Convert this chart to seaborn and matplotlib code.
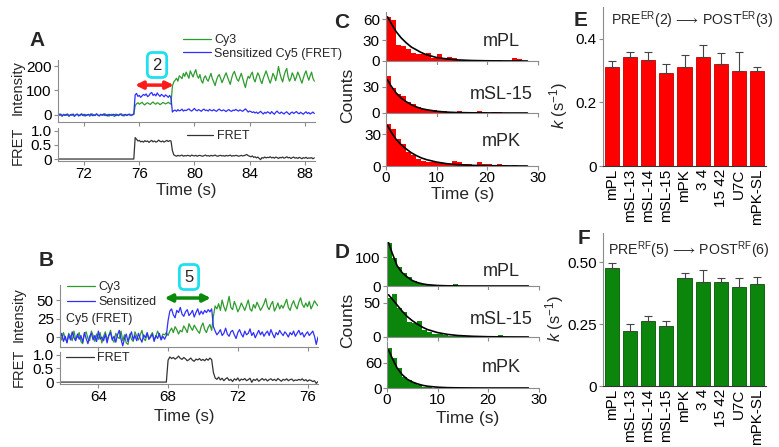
import numpy as np
import seaborn as sns
import matplotlib.pyplot as plt

# ---------------- data ----------------
# A: single-molecule trace, 0.1 s frames starting at 70.0 s
a_cy3 = [
    2, -3, 4, -1, -5, 3, 1, -2, 5, -4,
    0, 3, -2, -6, 2, 4, -1, -3, 6, 1,
    -4, 2, -2, 3, -5, 0, 4, -3, 1, 5,
    -2, -4, 3, 0, -1, 6, -3, 2, -5, 1,
    3, -2, -6, 4, 0, -3, 2, 5, -1, -4,
    3, -2, 1, 4, -3, 0, 2,
    38, 46, 50, 44, 48, 52, 45, 41, 47, 50,
    46, 43, 49, 53, 47, 44, 50, 48, 42, 46,
    51, 49, 45, 48, 52, 47, 44,
    118, 135, 142, 150, 138, 160, 155, 148, 170, 158,
    175, 162, 150, 180, 168, 155, 172, 185, 160, 150,
    165, 140, 130, 152, 160, 145, 138, 155, 170, 148,
    135, 120, 142, 158, 165, 150, 132, 145, 160, 172,
    155, 140, 125, 150, 168, 178, 160, 145, 138, 155,
    170, 150, 130, 112, 140, 158, 150, 165, 175, 148,
    135, 155, 172, 160, 140, 128, 150, 165, 180, 162,
    145, 130, 148, 170, 158, 140, 165, 198, 170, 150,
    135, 160, 178, 190, 155, 138, 150, 172, 160, 140,
    155, 175, 162, 145, 130, 150, 168, 180, 158, 142,
    160, 175, 150, 138,
]
a_cy5 = [
    -3, 2, -1, 4, -4, 1, -2, 3, 0, -5,
    2, -1, 4, -3, 0, 3, -4, 1, 2, -2,
    3, -4, 0, 2, -1, 5, -3, 1, -2, 4,
    0, -3, 2, -1, 4, -2, 1, -4, 3, 0,
    -2, 3, 1, -3, 2, -1, 4, 0, -3, 2,
    1, -2, 3, 0, -1, 2, 4,
    82, 88, 76, 80, 72, 78, 84, 80, 86, 75,
    79, 88, 92, 80, 85, 78, 90, 82, 76, 84,
    80, 74, 82, 78, 72, 80, 70,
    12, 18, 20, 15, 22, 17, 19, 24, 16, 20,
    18, 22, 25, 19, 16, 21, 27, 20, 17, 22,
    19, 15, 21, 24, 18, 20, 16, 23, 19, 17,
    22, 18, 15, 20, 24, 19, 17, 21, 18, 14,
    19, 22, 17, 15, 20, 18, 23, 19, 16, 21,
    18, 15, 20, 25, 19, 12, 16, 14, 10, 13,
    8, 12, 6, 10, 15, 9, 4, 11, 7, 13,
    10, 5, 14, 8, 3, 11, 16, 9, 6, 12,
    8, 4, 10, 13, 7, 2, 9, 12, 6, 10,
    14, 8, 5, 11, 7, 3, 9, 13, 6, 10,
    4, 8, 12, 6,
]
a_fret = [
    0, 0, 0, 0, 0, 0, 0, 0, 0, 0,
    0, 0, 0, 0, 0, 0, 0, 0, 0, 0,
    0, 0, 0, 0, 0, 0, 0, 0, 0, 0,
    0, 0, 0, 0, 0, 0, 0, 0, 0, 0,
    0, 0, 0, 0, 0, 0, 0, 0, 0, 0,
    0, 0, 0, 0, 0, 0, 0,
    0.76, 0.70, 0.64, 0.66, 0.61, 0.63, 0.60, 0.65, 0.62, 0.64,
    0.59, 0.63, 0.66, 0.61, 0.64, 0.60, 0.62, 0.67, 0.63, 0.61,
    0.64, 0.60, 0.63, 0.66, 0.62, 0.65, 0.64,
    0.30, 0.15, 0.12, 0.10, 0.13, 0.11, 0.12, 0.14, 0.10, 0.12,
    0.11, 0.13, 0.12, 0.10, 0.14, 0.12, 0.11, 0.13, 0.10, 0.12,
    0.13, 0.11, 0.10, 0.12, 0.14, 0.11, 0.12, 0.10, 0.13, 0.11,
    0.12, 0.14, 0.11, 0.10, 0.12, 0.13, 0.11, 0.12, 0.10, 0.13,
    0.11, 0.12, 0.14, 0.10, 0.12, 0.11, 0.13, 0.12, 0.10, 0.11,
    0.13, 0.11, 0.12, 0.14, 0.16, 0.12, 0.10, 0.08, 0.11, 0.06,
    0.08, 0.04, 0.07, 0.02, -0.02, 0.05, 0.03, 0.07, 0.04, 0.06,
    0.05, 0.08, 0.04, 0.06, 0.03, 0.07, 0.05, 0.02, 0.06, 0.04,
    0.07, 0.03, 0.05, 0.08, 0.04, 0.06, 0.02, 0.05, 0.07, 0.03,
    0.05, 0.02, 0.06, 0.04, 0.01, 0.05, 0.03, 0.06, 0.02, 0.04,
    0.03, 0.05, 0.01, 0.04,
]

# B: single-molecule trace, 0.1 s frames starting at 61.8 s
b_cy3 = [
    3, -4, 6, -2, -7, 5, 1, -5, 8, -3,
    0, 6, -6, -9, 4, 7, -2, -5, 8, 2,
    -6, 4, -3, 6, -8, 1, 7, -4, 2, 9,
    -3, -7, 5, 0, -2, 8, -5, 3, -8, -10,
    4, -3, -6, 7, 1, -4, 3, 9, -2, -5,
    5, -3, 2, 6, -4, 1, 8, 2, -3, 4,
    3, 6,
    2, 8, 12, 6, 14, 10, 4, 9, 7, 15,
    11, 6, 18, 13, 9, 16, 12, 8, 5, 14,
    19, 10, 6, 13, 17, 9,
    28, 42, 38, 45, 36, 50, 41, 35, 44, 55,
    40, 37, 48, 42, 34, 39, 46, 41, 36, 43,
    50, 38, 35, 44, 39, 47, 42, 36, 40, 45,
    52, 41, 37, 44, 48, 35, 40, 46, 38, 43,
    39, 45, 51, 40, 36, 44, 49, 42, 38, 47,
    53, 44, 40, 46, 41, 48, 38, 43, 49, 45,
    42,
]
b_cy5 = [
    -2, 5, -6, 1, -8, 3, -4, 7, -1, -5,
    4, -3, 2, -7, 6, -2, -9, 1, 5, -4,
    2, -6, 8, -3, 0, -5, 4, -8, 2, 6,
    -4, 1, -7, 3, 9, -3, -12, -2, 4, -6,
    1, 7, -4, 2, -5, 5, -2, -7, 3, -1,
    6, -3, 0, 4, -6, 2, -2, 5, -4, 1,
    -3, 2,
    22, 35, 38, 30, 26, 36, 33, 40, 31, 28,
    34, 37, 29, 32, 36, 27, 33, 38, 30, 35,
    31, 36, 33, 37, 34, 38,
    14, 8, 3, 6, 10, 2, 5, 12, 4, 1,
    7, 9, 3, -2, 6, 10, 4, 0, 8, 3,
    5, 11, 2, 6, -1, 4, 9, 3, 7, 1,
    5, 8, 2, 10, 4, -1, 6, 3, 9, 5,
    2, 7, 4, 0, 6, 3, 8, 1, 5, 9,
    3, 6, 0, 4, 7, 2, 5, 8, 1, -10,
    0,
]
b_fret = [
    0, 0, 0, 0, 0, 0, 0, 0, 0, 0,
    0, 0, 0, 0, 0, 0, 0, 0, 0, 0,
    0, 0, 0, 0, 0, 0, 0, 0, 0, 0,
    0, 0, 0, 0, 0, 0, 0, 0, 0, 0,
    0, 0, 0, 0, 0, 0, 0, 0, 0, 0,
    0, 0, 0, 0, 0, 0, 0, 0, 0, 0,
    0, 0,
    0.80, 0.92, 0.86, 0.90, 0.84, 0.88, 0.95, 0.87, 0.83, 0.90,
    0.85, 0.78, 0.82, 0.88, 0.80, 0.76, 0.84, 0.81, 0.86, 0.79,
    0.83, 0.78, 0.85, 0.80, 0.88, 0.82,
    0.35, 0.15, 0.10, 0.18, 0.08, 0.14, 0.05, 0.12, 0.16, 0.06,
    0.10, 0.02, 0.12, 0.07, 0.15, 0.04, 0.11, 0.08, 0.13, 0.05,
    0.09, 0.14, -0.01, 0.10, 0.06, 0.12, 0.03, 0.08, 0.13, 0.07,
    0.11, 0.04, 0.09, 0.12, 0.06, 0.10, 0.05, 0.13, 0.08, 0.03,
    0.10, 0.07, 0.12, 0.05, 0.09, 0.11, 0.04, 0.08, 0.06, 0.10,
    0.07, 0.12, 0.05, 0.09, 0.03, 0.08, 0.06, 0.02, 0.05, -0.05,
    0.02,
]

# C / D: dwell-time histograms, 1 s bins from 0 to 28 s
bin_edges = list(range(0, 29))
c_mpl = [63, 58, 23, 22, 17, 12, 10, 10, 11, 4, 10, 4, 6, 5,
         2, 2, 1, 2, 2, 1, 1, 1, 1, 0, 0, 4, 3, 0]
c_msl15 = [42, 29, 22, 20, 13, 10, 7, 5, 4, 3, 2, 2, 1, 1,
           2, 1, 1, 0, 2, 1, 0, 1, 1, 0, 0, 0, 0, 0]
c_mpk = [39, 35, 25, 21, 13, 10, 7, 5, 4, 4, 3, 3, 2, 5,
         4, 2, 2, 1, 4, 2, 2, 1, 2, 1, 0, 1, 0, 0]
d_mpl = [150, 98, 66, 45, 30, 18, 12, 8, 5, 4, 3, 2, 1, 6,
         0, 0, 0, 0, 0, 0, 0, 0, 0, 0, 0, 0, 0, 0]
d_msl15 = [57, 63, 42, 37, 22, 20, 24, 10, 8, 5, 4, 3, 2, 1,
           1, 1, 1, 0, 0, 0, 0, 0, 3, 0, 0, 0, 0, 0]
d_mpk = [95, 71, 47, 27, 19, 11, 6, 3, 2, 1, 1, 1, 0, 0,
         0, 0, 0, 0, 0, 0, 0, 0, 0, 0, 0, 0, 0, 0]

# single-exponential fit curves
fit_t = [0.3, 1, 2, 3, 4, 5, 6, 7, 8, 10, 12, 14, 17, 20, 24, 28]
c_mpl_fit = [63, 54, 42, 33, 26, 20, 16, 12, 9, 5, 3, 1.6, 0.7, 0.3, 0.1, 0]
c_msl15_fit = [38, 31, 23, 17, 13, 9.5, 7, 5, 3.8, 2, 1, 0.5, 0.2, 0.1, 0, 0]
c_mpk_fit = [38, 32, 25, 20, 16, 12.5, 9.8, 7.6, 6, 3.7, 2.2, 1.3, 0.6, 0.3, 0.1, 0]
d_mpl_fit = [150, 115, 70, 46, 31, 19, 12, 7.5, 4.5, 1.7, 0.6, 0.2, 0.05, 0, 0, 0]
d_msl15_fit = [62, 56, 47, 38, 30, 24, 19, 14.5, 11, 6.5, 3.8, 2.2, 1, 0.4, 0.1, 0]
d_mpk_fit = [91, 72, 48, 32, 21, 14.5, 10, 6.5, 4.3, 1.9, 0.8, 0.4, 0.1, 0, 0, 0]

# E / F: rate constants per construct
constructs = ['mPL', 'mSL-13', 'mSL-14', 'mSL-15', 'mPK', '3 4', '15 42', 'U7C', 'mPK-SL']
e_rate = [0.31, 0.343, 0.334, 0.293, 0.31, 0.343, 0.322, 0.30, 0.30]
e_err = [0.02, 0.015, 0.023, 0.027, 0.04, 0.037, 0.032, 0.057, 0.01]
f_rate = [0.476, 0.22, 0.262, 0.241, 0.435, 0.418, 0.418, 0.40, 0.41]
f_err = [0.022, 0.03, 0.02, 0.021, 0.02, 0.05, 0.018, 0.034, 0.03]

# ---------------- figure ----------------
sns.set_style('ticks')
plt.rcParams['font.family'] = ['Liberation Sans', 'DejaVu Sans']
plt.rcParams['mathtext.fontset'] = 'custom'
plt.rcParams['mathtext.rm'] = 'Liberation Sans'
plt.rcParams['mathtext.it'] = 'Liberation Sans:italic'
plt.rcParams['mathtext.bf'] = 'Liberation Sans:bold'

W, H = 779, 447
fig = plt.figure(figsize=(W / 100, H / 100), dpi=100)

GREY = '#8c8c8c'
TR_GREEN = '#2e9b2e'
TR_BLUE = '#2f2fff'
RED = '#ff0000'
GREEN = '#0b850b'


def box(l, t, r, b):
    return fig.add_axes([l / W, 1 - b / H, (r - l) / W, (b - t) / H])


def ftext(x, y, s, **kw):
    kw.setdefault('ha', 'center')
    kw.setdefault('va', 'center')
    fig.text(x / W, 1 - y / H, s, **kw)


def style(ax, size=11):
    for s in ['top', 'right']:
        ax.spines[s].set_visible(False)
    for s in ['left', 'bottom']:
        ax.spines[s].set_color(GREY)
        ax.spines[s].set_linewidth(0.8)
    ax.tick_params(colors=GREY, labelcolor='black', length=3, width=0.8,
                   labelsize=size, pad=1.5)
    ax.set_xlabel('')
    ax.set_ylabel('')


def trace_panel(top_box, bot_box, t0, cy3, cy5, fret, xlim, ylim, xticks):
    ax1 = box(*top_box)
    ax2 = box(*bot_box)
    t = np.round(t0 + 0.1 * np.arange(len(cy3)), 2)
    sns.lineplot(x=t, y=cy3, ax=ax1, color=TR_GREEN, lw=0.9, estimator=None, label='Cy3')
    sns.lineplot(x=t, y=cy5, ax=ax1, color=TR_BLUE, lw=0.9, estimator=None, label='cy5')
    sns.lineplot(x=t, y=fret, ax=ax2, color='#333333', lw=0.9, estimator=None, label='FRET')
    for ax in (ax1, ax2):
        style(ax)
        ax.set_xlim(*xlim)
        ax.set_xticks(xticks)
    ax1.set_ylim(*ylim)
    ax1.tick_params(labelbottom=False)
    ax2.set_ylim(-0.07, 1.1)
    ax2.set_yticks([0, 0.5, 1.0], ['0', '0.5', '1.0'])
    return ax1, ax2


# ---- A ----
axA1, axA2 = trace_panel((58, 60, 315, 122), (58, 128, 315, 161), 70.0,
                         a_cy3, a_cy5, a_fret, (70.1, 88.75), (-28.6, 224.5),
                         [72, 76, 80, 84, 88])
axA1.set_yticks([0, 100, 200])
h, _ = axA1.get_legend_handles_labels()
axA1.legend(h, ['Cy3', 'Sensitized Cy5 (FRET)'], loc='upper left',
            bbox_to_anchor=(183 / W, 1 - 34 / H), bbox_transform=fig.transFigure,
            frameon=False, fontsize=9, handlelength=2.2, handletextpad=0.3,
            labelspacing=0.12, borderpad=0, borderaxespad=0)
axA2.legend(loc='upper left', bbox_to_anchor=(187 / W, 1 - 130 / H),
            bbox_transform=fig.transFigure, frameon=False, fontsize=9,
            handlelength=2.1, handletextpad=0.3, borderpad=0, borderaxespad=0)
axA1.annotate('', xy=(78.5, 122), xytext=(75.7, 122), annotation_clip=False,
              arrowprops=dict(arrowstyle='<|-|>', color='#ff1a1a', lw=2.5,
                              mutation_scale=11, shrinkA=0, shrinkB=0))
ftext(157, 65, '2', fontsize=12,
      bbox=dict(boxstyle='round,pad=0.3', fc='white', ec='#1fe0f0', lw=2))
ftext(37, 40, 'A', fontsize=15, fontweight='bold')
ftext(18, 88, 'Intensity', fontsize=10.5, rotation=90)
ftext(18, 146, 'FRET', fontsize=10.5, rotation=90)
ftext(186, 190, 'Time (s)', fontsize=12)

# ---- B ----
axB1, axB2 = trace_panel((60, 285, 318, 347), (60, 352, 318, 384), 61.8,
                         b_cy3, b_cy5, b_fret, (61.8, 76.6), (-13.5, 70.3),
                         [64, 68, 72, 76])
axB1.set_yticks([0, 25, 50])
h, _ = axB1.get_legend_handles_labels()
axB1.legend(h, ['Cy3', 'Sensitized'], loc='upper left',
            bbox_to_anchor=(67 / W, 1 - 281 / H), bbox_transform=fig.transFigure,
            frameon=False, fontsize=9, handlelength=2.2, handletextpad=0.3,
            labelspacing=0.25, borderpad=0, borderaxespad=0)
ftext(66, 319, 'Cy5 (FRET)', fontsize=9, ha='left')
axB2.legend(loc='upper left', bbox_to_anchor=(66 / W, 1 - 352 / H),
            bbox_transform=fig.transFigure, frameon=False, fontsize=9,
            handlelength=2.2, handletextpad=0.3, borderpad=0, borderaxespad=0)
axB1.annotate('', xy=(70.45, 52.7), xytext=(67.8, 52.7), annotation_clip=False,
              arrowprops=dict(arrowstyle='<|-|>', color='#0a8a0a', lw=2.5,
                              mutation_scale=11, shrinkA=0, shrinkB=0))
ftext(189, 277, '5', fontsize=12,
      bbox=dict(boxstyle='round,pad=0.3', fc='white', ec='#1fe0f0', lw=2))
ftext(46, 261, 'B', fontsize=15, fontweight='bold')
ftext(19, 315, 'Intensity', fontsize=10.5, rotation=90)
ftext(19, 368, 'FRET', fontsize=10.5, rotation=90)
ftext(184, 417, 'Time (s)', fontsize=12)

# ---- C / D histograms ----
centers = [e + 0.5 for e in bin_edges[:-1]]


def hist_panel(left, right, rows, color):
    axes = []
    for (top, bot, counts, fit, ylim, yticks, name, ny) in rows:
        ax = box(left, top, right, bot)
        sns.histplot(x=centers, weights=counts, bins=bin_edges, ax=ax,
                     color=color, alpha=1, linewidth=0)
        sns.lineplot(x=fit_t, y=fit, ax=ax, color='black', lw=1.2, estimator=None)
        style(ax)
        ax.set_xlim(0, 30)
        ax.set_ylim(*ylim)
        ax.set_yticks(yticks)
        ax.set_xticks([0, 10, 20, 30])
        ax.tick_params(labelbottom=False)
        ftext(501, ny, name, fontsize=13)
        axes.append(ax)
    axes[-1].tick_params(labelbottom=True, pad=0.5)
    return axes


hist_panel(386, 537.5, [
    (12, 61, c_mpl, c_mpl_fit, (0, 70), [0, 30, 60], 'mPL', 42),
    (65, 113, c_msl15, c_msl15_fit, (0, 55), [0, 30], 'mSL-15', 94),
    (117, 166, c_mpk, c_mpk_fit, (0, 46), [0, 30], 'mPK', 141),
], RED)
ftext(342, 23, 'C', fontsize=15, fontweight='bold')
ftext(348, 95, 'Counts', fontsize=12.5, rotation=90)
ftext(463, 195, 'Time (s)', fontsize=12.5)

hist_panel(387, 538.5, [
    (242, 286, d_mpl, d_mpl_fit, (0, 152), [0, 100], 'mPL', 271),
    (290, 337, d_msl15, d_msl15_fit, (0, 69), [0, 50], 'mSL-15', 320),
    (342, 388, d_mpk, d_mpk_fit, (0, 110), [0, 60], 'mPK', 367),
], GREEN)
ftext(342, 253, 'D', fontsize=15, fontweight='bold')
ftext(348, 320, 'Counts', fontsize=12.5, rotation=90)
ftext(468, 419, 'Time (s)', fontsize=12.5)


# ---- E / F bar charts ----
def bar_panel(top, bot, rates, errs, color, edge, ylim, yticks, yticklabels):
    ax = box(603, top, 766, bot)
    sns.barplot(x=constructs, y=rates, ax=ax, color=color, saturation=1,
                width=0.78, edgecolor=edge, linewidth=0.6)
    ax.errorbar(range(len(rates)), rates, yerr=[[0] * len(errs), errs], fmt='none',
                ecolor='#444444', elinewidth=0.8, capsize=3, capthick=0.8)
    style(ax, size=11)
    ax.spines['bottom'].set_color('#333333')
    ax.set_xlim(-0.5, len(rates) - 0.5)
    ax.set_ylim(*ylim)
    ax.set_yticks(yticks, yticklabels)
    ax.tick_params(axis='x', length=0, rotation=90, pad=2)
    return ax


bar_panel(7, 166, e_rate, e_err, RED, '#c00000', (0, 0.5), [0, 0.2, 0.4],
          ['0', '0.2', '0.4'])
ftext(581, 21, 'E', fontsize=15, fontweight='bold')
ftext(611, 20, r'PRE$^{\mathrm{ER}}$(2)$\,\longrightarrow\,$POST$^{\mathrm{ER}}$(3)',
      fontsize=10.2, ha='left')
ftext(559, 105, r'$k$ (s$^{-1}$)', fontsize=12, rotation=90)

bar_panel(233, 386, f_rate, f_err, GREEN, '#055505', (0, 0.617), [0, 0.25, 0.5],
          ['0', '0.25', '0.50'])
ftext(584, 238, 'F', fontsize=15, fontweight='bold')
ftext(608, 250, r'PRE$^{\mathrm{RF}}$(5)$\,\longrightarrow\,$POST$^{\mathrm{RF}}$(6)',
      fontsize=10.2, ha='left')
ftext(555, 318, r'$k$ (s$^{-1}$)', fontsize=12, rotation=90)

fig.savefig('out.png', dpi=100)
